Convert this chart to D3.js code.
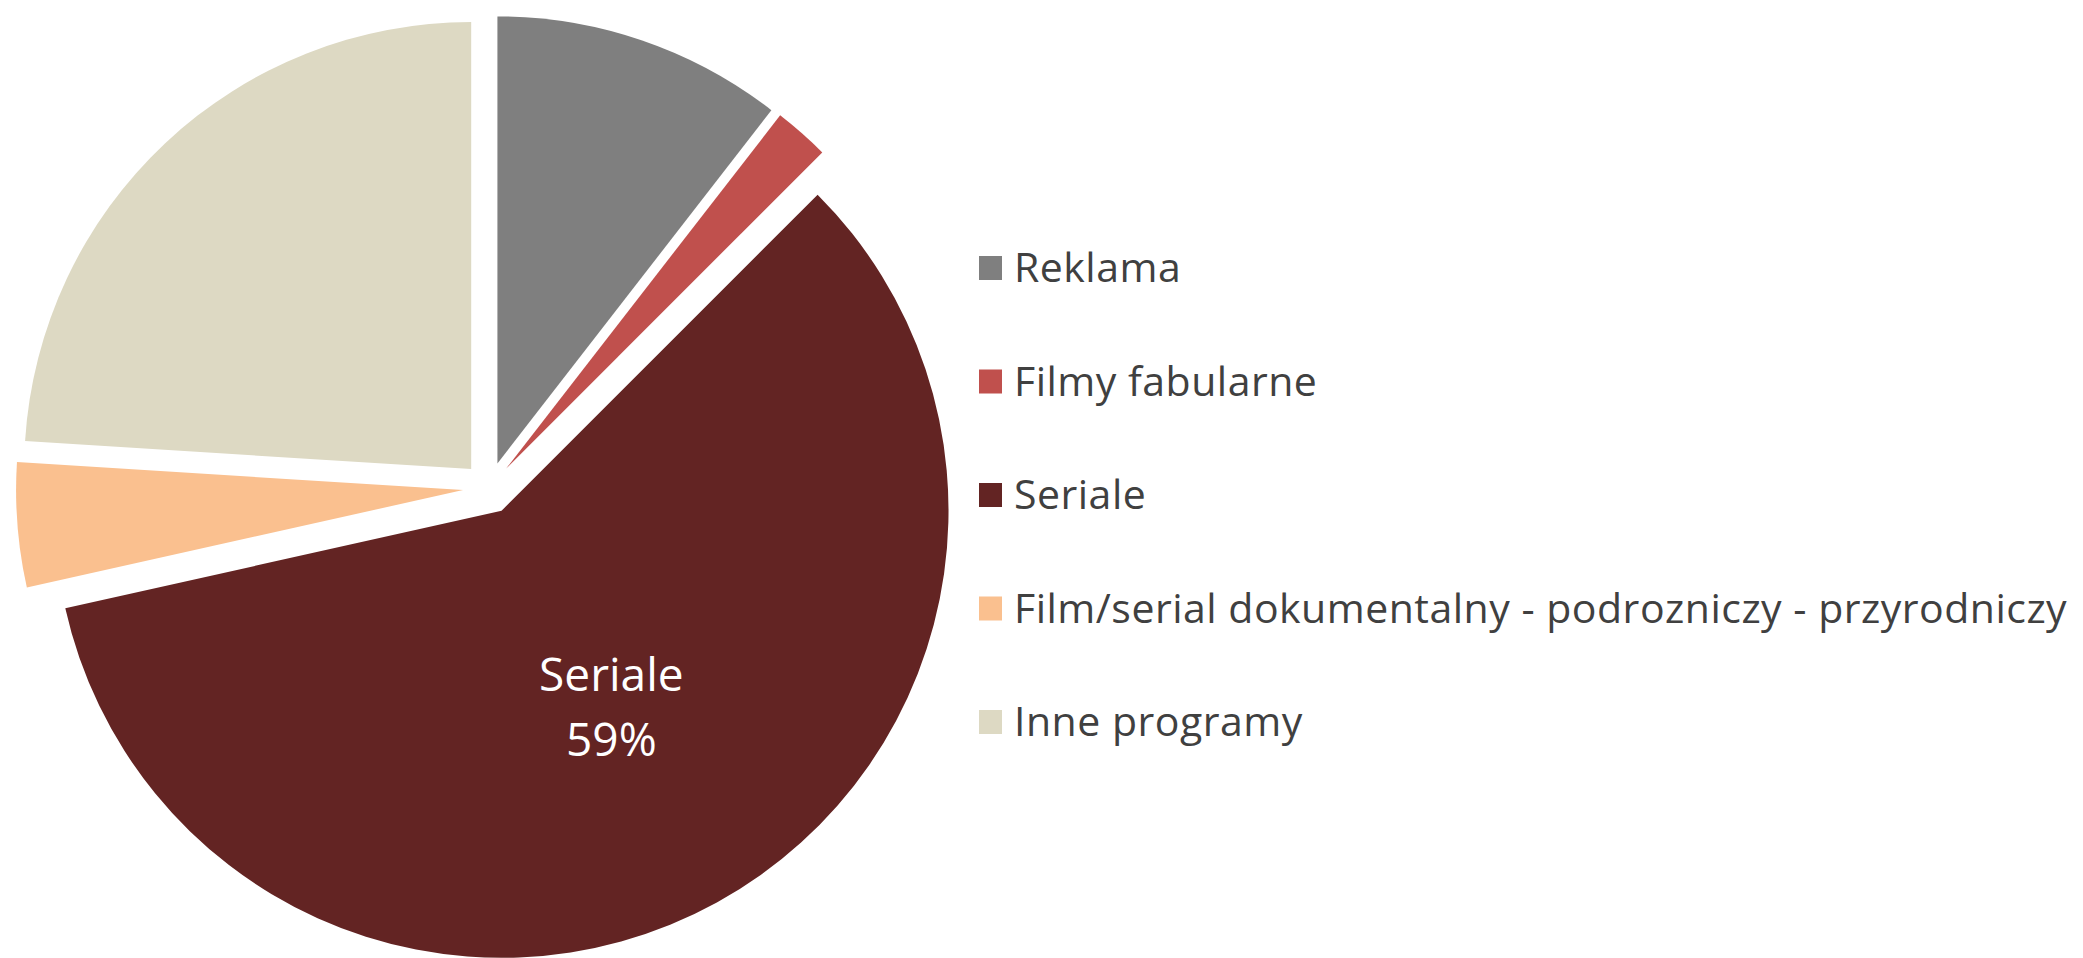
<!DOCTYPE html>
<html>
<head>
    <meta charset="utf-8">
    <script src="https://d3js.org/d3.v7.min.js"></script>
    <style>
        body { margin: 0; background: #fff; }
        text { font-family: "Open Sans", sans-serif; }
    </style>
</head>
<body>
    <script type="text/javascript">
        // dane
        const categories = ["Reklama", "Filmy fabularne", "Seriale",
            "Film/serial dokumentalny - podrozniczy - przyrodniczy", "Inne programy"];
        const shares = [10.5, 2, 59, 4.5, 24];
        const colors = ["#7f7f7f", "#c0504d", "#632423", "#fac08f", "#ddd9c3"];
        const labelled = ["Seriale"];

        let width = 2083,
            height = 958,
            cx = 489, cy = 488,
            radius = 447,
            explode = 26;

        let svg = d3.select("body")
            .append("svg")
            .attr("width", width)
            .attr("height", height);

        let data = categories.map((c, i) => ({ name: c, value: shares[i] }));
        let total = d3.sum(shares);

        let pie = d3.pie()
            .sort(null)
            .value(d => d.value);

        let arc = d3.arc()
            .innerRadius(0)
            .outerRadius(radius);

        let color = d3.scaleOrdinal().domain(categories).range(colors);

        let g = svg.append("g")
            .attr("transform", `translate(${cx},${cy})`);

        let slices = g.selectAll("g.slice")
            .data(pie(data))
            .enter()
            .append("g")
            .attr("class", "slice")
            .attr("transform", d => {
                let a = (d.startAngle + d.endAngle) / 2;
                return `translate(${explode * Math.sin(a)},${-explode * Math.cos(a)})`;
            });

        slices.append("path")
            .attr("d", arc)
            .attr("fill", d => color(d.data.name));

        let fmt = d3.format(".0%");
        let lab = slices.filter(d => labelled.includes(d.data.name))
            .append("text")
            .attr("text-anchor", "middle")
            .attr("fill", "#fff")
            .attr("font-size", 46)
            .attr("transform", d => {
                let a = (d.startAngle + d.endAngle) / 2;
                let r = radius * 0.51;
                return `translate(${r * Math.sin(a)},${-r * Math.cos(a)})`;
            });
        lab.append("tspan").attr("x", 0).attr("y", -20).text(d => d.data.name);
        lab.append("tspan").attr("x", 0).attr("y", 45).text(d => fmt(d.data.value / total));

        // legenda
        let legend = svg.append("g")
            .attr("transform", "translate(979,0)");

        let ly = d3.scalePoint()
            .domain(categories)
            .range([268, 722]);

        let item = legend.selectAll("g.item")
            .data(categories)
            .enter()
            .append("g")
            .attr("class", "item")
            .attr("transform", d => `translate(0,${ly(d)})`);

        item.append("rect")
            .attr("x", 0)
            .attr("y", -12)
            .attr("width", 23)
            .attr("height", 24)
            .attr("fill", d => color(d));

        item.append("text")
            .attr("x", 35)
            .attr("y", 14)
            .attr("font-size", 41)
            .attr("letter-spacing", 0.5)
            .attr("fill", "#404040")
            .text(d => d);
    </script>
</body>
</html>
